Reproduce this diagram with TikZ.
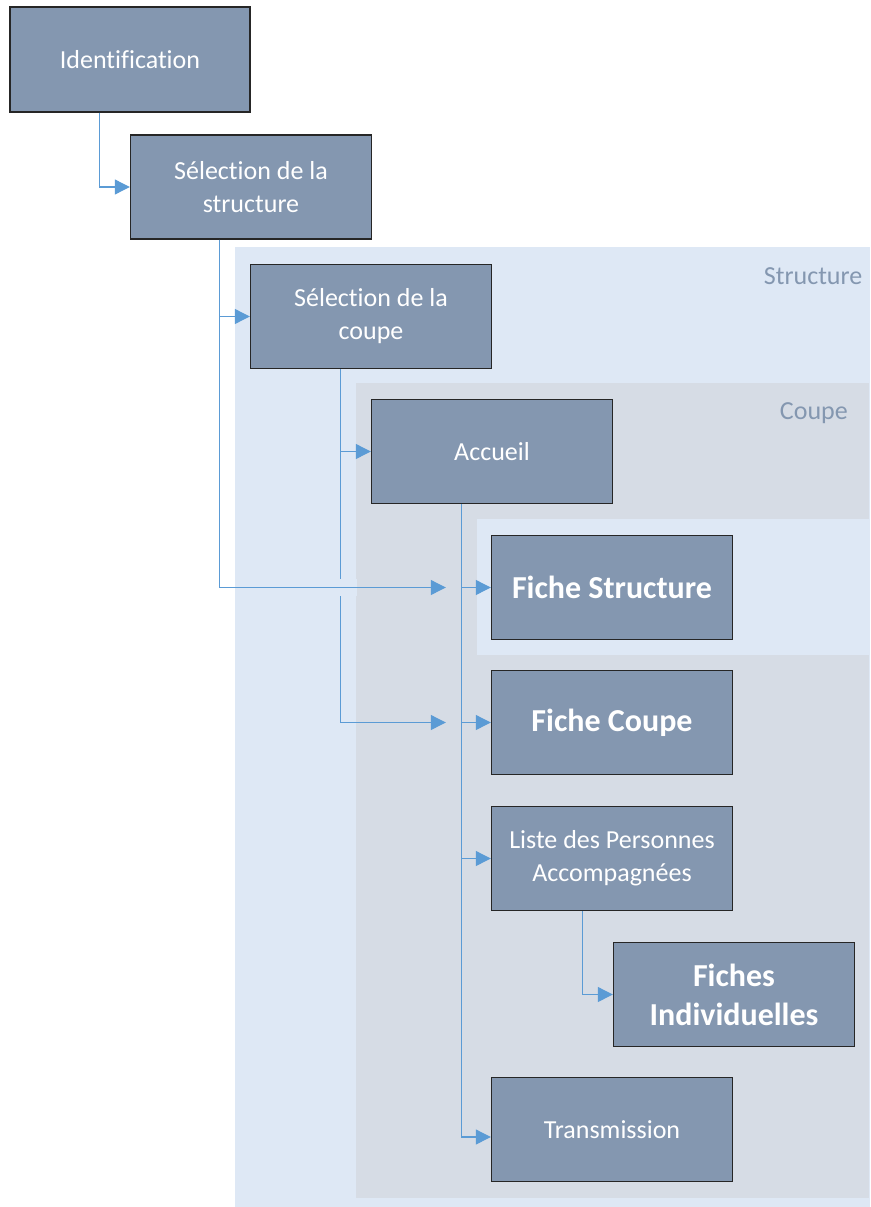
\documentclass[tikz,border=0pt]{standalone}
\usepackage{fontspec}
\setmainfont{Carlito}[Ligatures={NoCommon,NoContextual}]
\usetikzlibrary{arrows.meta}
\definecolor{structbg}{HTML}{DEE8F5}
\definecolor{coupebg}{HTML}{D6DCE5}
\definecolor{boxfill}{HTML}{8497B0}
\definecolor{linec}{HTML}{5B9BD5}
\definecolor{labelc}{HTML}{8497B0}
\tikzset{
  pagebox/.style={draw=black!85, line width=1.4pt, fill=boxfill, text=white,
    minimum width=241pt, minimum height=104pt, inner sep=0pt, align=center,
    font=\fontsize{26}{33}\selectfont},
  boldbox/.style={pagebox, font=\fontsize{32}{39}\selectfont\bfseries},
  conn/.style={draw=linec, line width=1.1pt, -{Triangle[length=15pt,width=15pt]}},
  region/.style={font=\fontsize{26}{33}\selectfont, text=labelc, inner sep=0pt}
}
\begin{document}
\begin{tikzpicture}[x=1pt,y=-1pt]
\useasboundingbox (0,0) rectangle (870,1207);
% regions
\fill[structbg] (235,247) rectangle (870,1207);
\fill[coupebg] (356,383) rectangle (869,1197.5);
\fill[structbg] (477,519) rectangle (870,655);
\node[region, anchor=base east] (lstruct) at (862.5,284) {Structure};
\node[region, anchor=base east] (lcoupe) at (848,419.5) {Coupe};
% boxes
\node[pagebox, minimum width=240pt, minimum height=105pt] (ident) at (130,59.5) {Identification};
\node[pagebox] (selstruct) at (251,187) {Sélection de la\\structure};
\node[pagebox] (selcoupe) at (371,316.5) {Sélection de la\\coupe};
\node[pagebox] (accueil) at (492,451.5) {Accueil};
\node[boldbox] (fstruct) at (612,587.5) {Fiche Structure};
\node[boldbox] (fcoupe) at (612,722.5) {Fiche Coupe};
\node[pagebox] (liste) at (612,858.5) {Liste des Personnes\\Accompagnées};
\node[boldbox] (findiv) at (734,994.5) {Fiches\\Individuelles};
\node[pagebox] (trans) at (612,1129.5) {Transmission};
% connectors
\draw[conn] ([xshift=90pt]ident.south west) |- (selstruct.west);
\draw[conn] ([xshift=90pt]selstruct.south west) |- (selcoupe.west);
\draw[conn] ([xshift=91pt]selcoupe.south west) |- (accueil.west);
\draw[conn] ([xshift=91pt]selcoupe.south west) |- ([xshift=-45pt]fcoupe.west);
% line jump patch
\fill[structbg] (339.5,579) rectangle (357,596);
\draw[conn] ([xshift=90pt]selstruct.south west) |- ([xshift=-45pt]fstruct.west);
\draw[conn] ([xshift=91pt]accueil.south west) |- (fstruct.west);
\draw[conn] ([xshift=91pt]accueil.south west) |- (fcoupe.west);
\draw[conn] ([xshift=91pt]accueil.south west) |- (liste.west);
\draw[conn] ([xshift=91pt]accueil.south west) |- ([yshift=-7.5pt]trans.west);
\draw[conn] ([xshift=92pt]liste.south west) |- (findiv.west);
\end{tikzpicture}
\end{document}
